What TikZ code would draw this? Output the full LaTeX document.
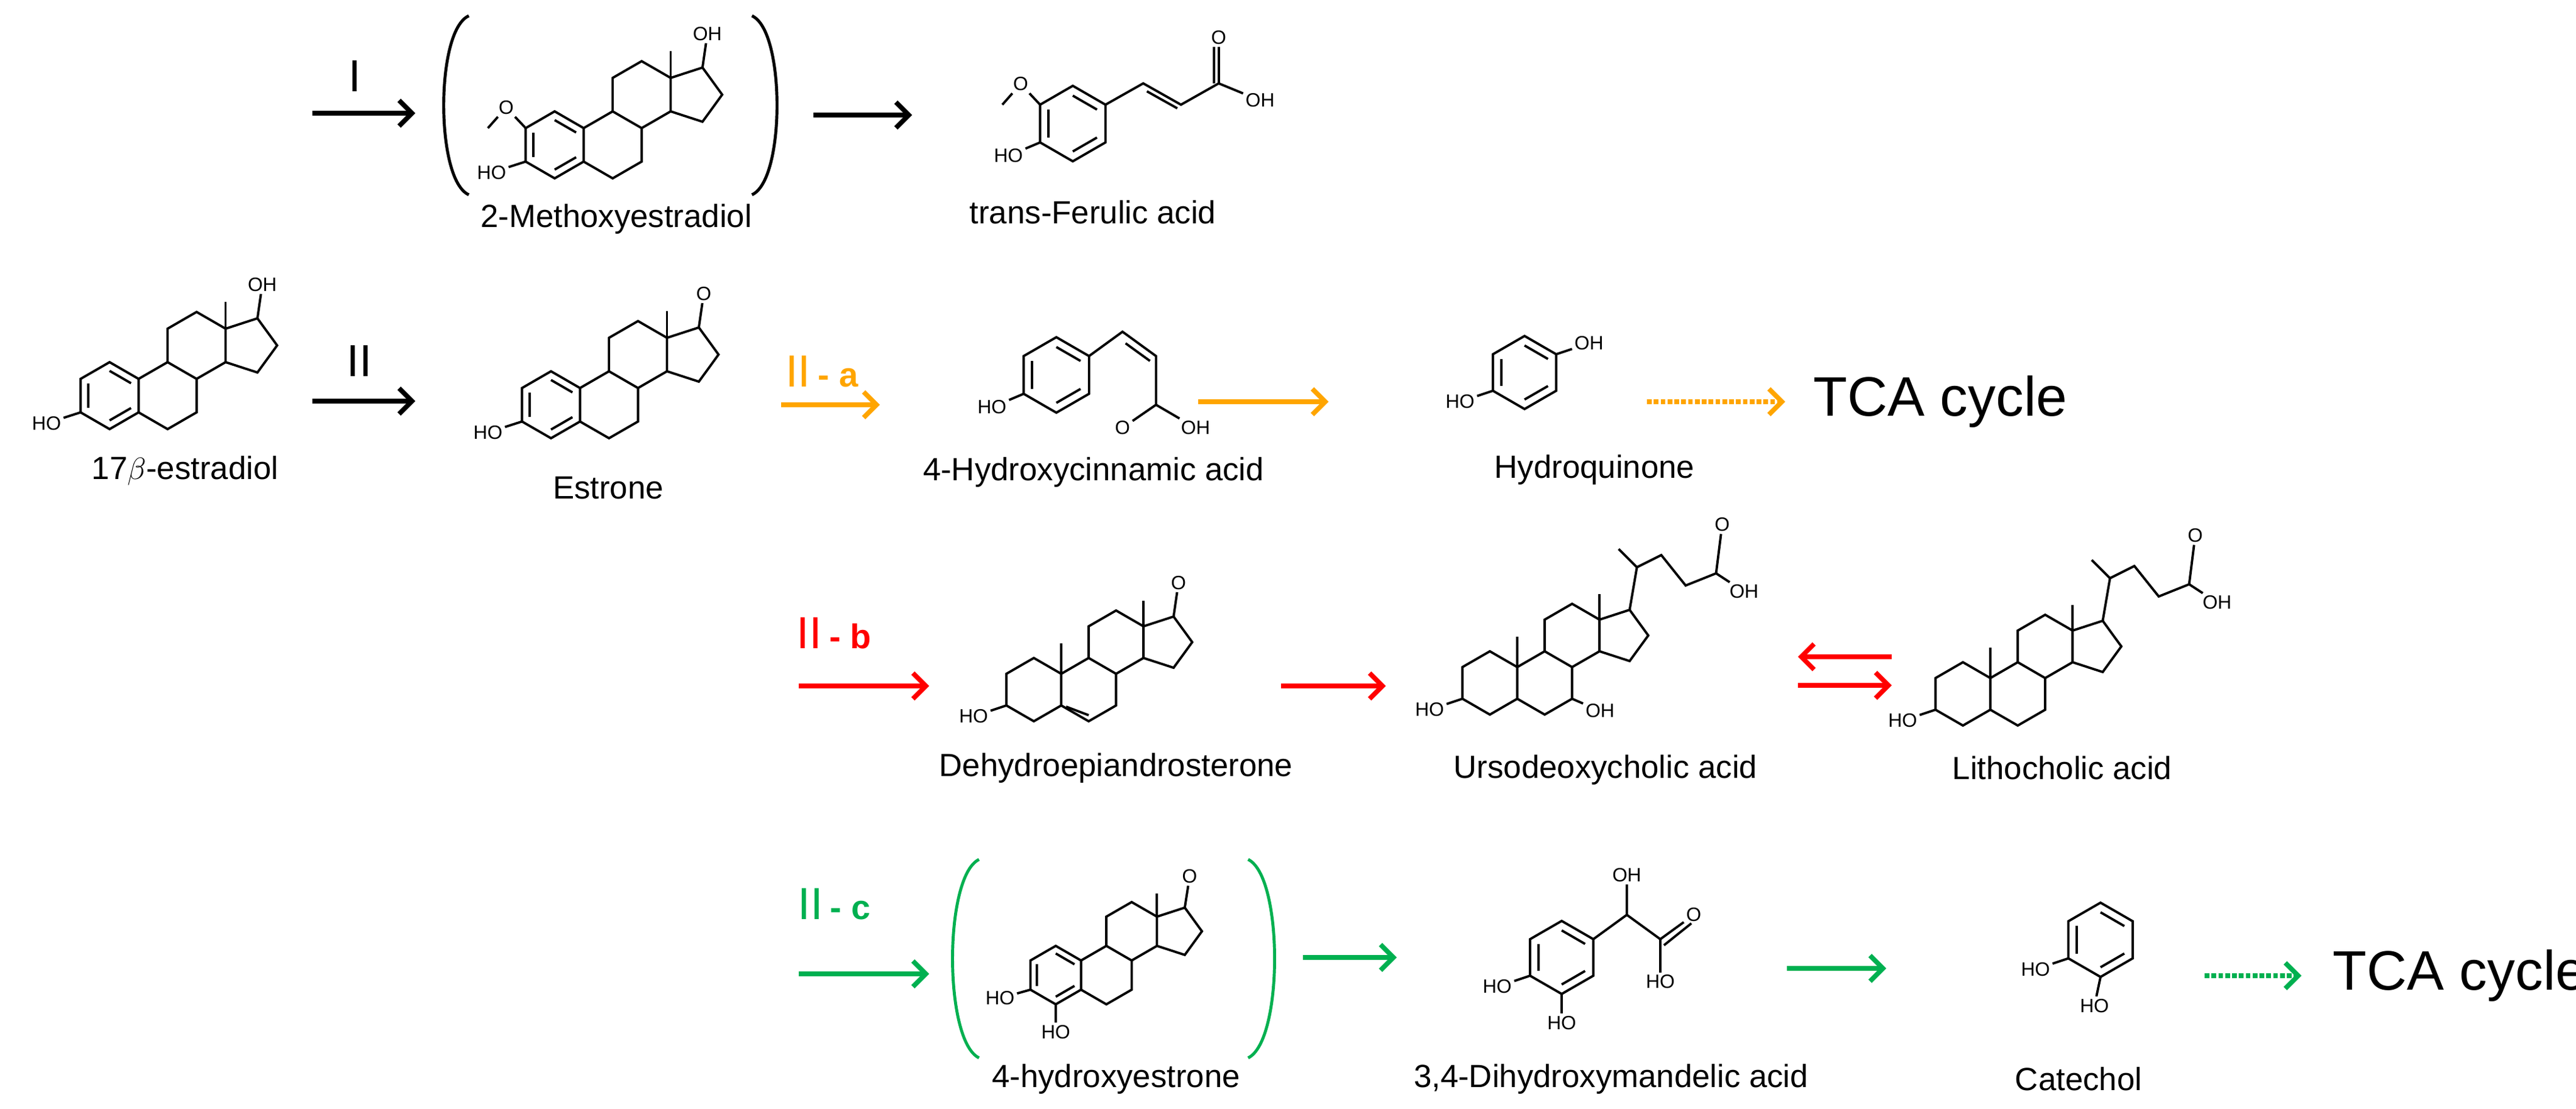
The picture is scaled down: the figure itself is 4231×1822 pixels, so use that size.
\documentclass[tikz,border=0pt]{standalone}
\usepackage{fontspec}
\setmainfont{Liberation Sans}
\usetikzlibrary{arrows.meta,calc}
\definecolor{orng}{RGB}{255,165,0}
\definecolor{grn}{RGB}{0,176,80}
\tikzset{
  bond/.style={line width=1.1pt},
  rxn/.style={-{Straight Barb[length=6pt,width=12pt]}, line width=2.2pt},
  atom/.style={font=\fontsize{9}{10}\selectfont, inner sep=1pt},
  cpd/.style={font=\fontsize{15}{17}\selectfont},
  roman/.style={font=\fontsize{21}{24}\selectfont},
  hexa/.pic={\draw[bond] (0,-1) -- (0.866,-0.5) -- (0.866,0.5) -- (0,1) -- (-0.866,0.5) -- (-0.866,-0.5) -- cycle;
    \coordinate (-tl) at (-0.866,-0.5); \coordinate (-tr) at (0.866,-0.5);
    \coordinate (-bl) at (-0.866,0.5); \coordinate (-br) at (0.866,0.5);
    \coordinate (-t) at (0,-1); \coordinate (-b) at (0,1);},
  arom/.pic={\foreach \k in {0,2,4} \draw[bond] (90-60*\k:0.74) -- (30-60*\k:0.74);},
  steroid/.pic={
    %%% rings A, B, C and D
    \draw[bond] (0,-1) -- (0.866,-0.5) -- (0.866,0.5) -- (0,1) -- (-0.866,0.5) -- (-0.866,-0.5) -- cycle;
    \draw[bond] (0.866,-0.5) -- (1.732,-1) -- (2.598,-0.5) -- (2.598,0.5) -- (1.732,1) -- (0.866,0.5);
    \draw[bond] (1.732,-1) -- (1.732,-2) -- (2.598,-2.5) -- (3.464,-2) -- (3.464,-1) -- (2.598,-0.5);
    \draw[bond] (3.464,-2) -- (4.415,-2.309) -- (5.003,-1.5) -- (4.415,-0.691) -- (3.464,-1);
    \draw[bond] (3.464,-2) -- (3.464,-2.8);
    \coordinate (-c3) at (-0.866,0.5); \coordinate (-c4) at (0,1);
    \coordinate (-c2) at (-0.866,-0.5); \coordinate (-c10) at (0.866,-0.5);
    \coordinate (-c17) at (4.415,-2.309); \coordinate (-c7) at (2.598,0.5);
    \coordinate (-c5) at (0.866,0.5); \coordinate (-c6) at (1.732,1);},
}
\begin{document}
\begin{tikzpicture}[x=0.01cm, y=-0.01cm]
\useasboundingbox (0,0) rectangle (4231,1822);
%%% row I
\node[roman] (r1) at (583,125) {\textrm{I}};
\draw[rxn] (513,186) -- (682,186);
\pic (meo) at (911,238) [scale=55] {steroid};
\pic at (911,238) [scale=55] {arom};
\node[atom, above] (meooh) at ($(meo-c17)+(8,-40)$) {OH};
\draw[bond] (meo-c17) -- (meooh);
\node[atom] (meoO) at ($(meo-c2)+(-32,-34)$) {O};
\draw[bond] (meo-c2) -- (meoO) -- ++(-30,34);
\node[atom, left] (meoho) at ($(meo-c3)+(-28,18)$) {HO};
\draw[bond] (meo-c3) -- (meoho);
\draw[line width=1.4pt] (770,26) .. controls (715,50) and (715,296) .. (770,320);
\draw[line width=1.4pt] (1235,26) .. controls (1290,50) and (1290,296) .. (1235,320);
\node[cpd] at (1012,360) {2-Methoxyestradiol};
\draw[rxn] (1336,189) -- (1498,189);
\pic (fer) at (1762,203) [scale=62] {hexa};
\pic at (1762,203) [scale=62] {arom};
\node[atom] (ferOm) at ($(fer-tl)+(-32,-34)$) {O};
\draw[bond] (fer-tl) -- (ferOm) -- ++(-30,34);
\node[atom, left] (ferho) at ($(fer-bl)+(-24,22)$) {HO};
\draw[bond] (fer-bl) -- (ferho);
\draw[bond] (fer-tr) -- ++(62,-35) -- ++(62,35) -- ++(62,-35) coordinate (ferc);
\draw[bond] ($(fer-tr)+(68,-22)$) -- ++(50,28);
\node[atom] (ferO) at ($(ferc)+(0,-75)$) {O};
\draw[bond] (ferc) -- (ferO);
\draw[bond] ($(ferc)+(-8,0)$) -- ($(ferO.south)+(-8,0)$);
\node[atom, right] (feroh) at ($(ferc)+(40,28)$) {OH};
\draw[bond] (ferc) -- (feroh);
\node[cpd] at (1795,349) {trans-Ferulic acid};
%%% row II
\pic (e2) at (180,650) [scale=55] {steroid};
\pic at (180,650) [scale=55] {arom};
\node[atom, above] (e2oh) at ($(e2-c17)+(8,-40)$) {OH};
\draw[bond] (e2-c17) -- (e2oh);
\node[atom, left] (e2ho) at ($(e2-c3)+(-28,18)$) {HO};
\draw[bond] (e2-c3) -- (e2ho);
\node[cpd] at (304,773) {17$\beta$-estradiol};
\node[roman] (r2) at (590,593) {\textrm{II}};
\draw[rxn] (513,659) -- (682,659);
\pic (e1) at (905,665) [scale=55] {steroid};
\pic at (905,665) [scale=55] {arom};
\node[atom, above] (e1o) at ($(e1-c17)+(8,-40)$) {O};
\draw[bond] (e1-c17) -- (e1o);
\node[atom, left] (e1ho) at ($(e1-c3)+(-28,18)$) {HO};
\draw[bond] (e1-c3) -- (e1ho);
\node[cpd] at (999,802) {Estrone};
\node[roman, text=orng] (r2a) at (1350,610) {\textrm{II}\,\textbf{\fontsize{16}{18}\selectfont- a}};
\draw[rxn, orng] (1283,665) -- (1445,665);
\pic (hc) at (1735,616) [scale=62] {hexa};
\pic at (1735,616) [scale=62] {arom};
\node[atom, left] (hcho) at ($(hc-bl)+(-24,22)$) {HO};
\draw[bond] (hc-bl) -- (hcho);
\draw[bond] (hc-tr) -- ++(55,-40) -- ++(55,40) coordinate (hcv) -- ++(0,80) coordinate (hcc);
\draw[bond] ($(hcv)+(-10,8)$) -- ++(-40,-29);
\node[atom] (hco) at ($(hcc)+(-55,38)$) {O};
\draw[bond] (hcc) -- (hco);
\node[atom] (hcoh) at ($(hcc)+(65,38)$) {OH};
\draw[bond] (hcc) -- (hcoh);
\node[cpd] at (1796,776) {4-Hydroxycinnamic acid};
\draw[rxn, orng] (1968,660) -- (2182,660);
\pic (hq) at (2504,612) [scale=60] {hexa};
\pic at (2504,612) [scale=60] {arom};
\node[atom, right] (hqoh) at ($(hq-tr)+(26,-18)$) {OH};
\draw[bond] (hq-tr) -- (hqoh);
\node[atom, left] (hqho) at ($(hq-bl)+(-26,18)$) {HO};
\draw[bond] (hq-bl) -- (hqho);
\node[cpd] at (2619,772) {Hydroquinone};
\draw[rxn, orng, densely dotted] (2705,660) -- (2932,660);
\node[font=\fontsize{26}{30}\selectfont] (tca1) at (3187,660) {TCA cycle};
%%% row III
\node[roman, text=red] (r2b) at (1370,1040) {\textrm{II}\,\textbf{\fontsize{16}{18}\selectfont- b}};
\draw[rxn, red] (1312,1127) -- (1526,1127);
\pic (dh) at (1698,1133) [scale=52] {steroid};
\draw[bond] (dh-c10) -- ++(0,-50);
\draw[bond] ($(dh-c5)+(8,2)$) -- ($(dh-c6)+(0,-10)$);
\node[atom, above] (dho) at ($(dh-c17)+(8,-40)$) {O};
\draw[bond] (dh-c17) -- (dho);
\node[atom, left] (dhho) at ($(dh-c3)+(-26,18)$) {HO};
\draw[bond] (dh-c3) -- (dhho);
\node[cpd] at (1833,1262) {Dehydroepiandrosterone};
\draw[rxn, red] (2104,1127) -- (2276,1127);
\foreach \nm/\cx/\cy in {ud/2447/1122, lc/3224/1140}{
  \pic (\nm) at (\cx,\cy) [scale=52] {steroid};
  \draw[bond] (\nm-c10) -- ++(0,-50);
  \draw[bond] (\nm-c17) -- ++(12,-70) coordinate (\nm-c20) -- ++(-30,-30);
  \draw[bond] (\nm-c20) -- ++(40,-20) -- ++(40,50) -- ++(50,-20) coordinate (\nm-acid);
  \node[atom] (\nm o) at ($(\nm-acid)+(10,-80)$) {O};
  \draw[bond] (\nm-acid) -- (\nm o);
  \node[atom, right] (\nm oh) at ($(\nm-acid)+(18,30)$) {OH};
  \draw[bond] (\nm-acid) -- (\nm oh);
  \node[atom, left] (\nm ho) at ($(\nm-c3)+(-26,18)$) {HO};
  \draw[bond] (\nm-c3) -- (\nm ho);
}
\node[atom, right] (udoh7) at ($(ud-c7)+(18,20)$) {OH};
\draw[bond] (ud-c7) -- (udoh7);
\node[cpd] at (2637,1265) {Ursodeoxycholic acid};
\node[cpd] at (3387,1262) {Lithocholic acid};
\draw[rxn, red] (3107,1079) -- (2953,1079);
\draw[rxn, red] (2953,1126) -- (3107,1126);
%%% row IV
\node[roman, text=grn] (r2c) at (1370,1485) {\textrm{II}\,\textbf{\fontsize{16}{18}\selectfont- c}};
\draw[rxn, grn] (1312,1600) -- (1526,1600);
\pic (oh4) at (1734,1602) [scale=48] {steroid};
\pic at (1734,1602) [scale=48] {arom};
\node[atom, above] (oh4o) at ($(oh4-c17)+(8,-36)$) {O};
\draw[bond] (oh4-c17) -- (oh4o);
\node[atom, left] (oh4ho) at ($(oh4-c3)+(-22,14)$) {HO};
\draw[bond] (oh4-c3) -- (oh4ho);
\node[atom, below] (oh4oh) at ($(oh4-c4)+(0,30)$) {HO};
\draw[bond] (oh4-c4) -- (oh4oh);
\draw[grn, line width=1.4pt] (1608,1412) .. controls (1550,1440) and (1550,1710) .. (1608,1738);
\draw[grn, line width=1.4pt] (2050,1412) .. controls (2108,1440) and (2108,1710) .. (2050,1738);
\node[cpd] at (1833,1773) {4-hydroxyestrone};
\draw[rxn, grn] (2140,1573) -- (2294,1573);
\pic (mand) at (2565,1573) [scale=60] {hexa};
\pic at (2565,1573) [scale=60] {arom};
\node[atom, left] (mandho) at ($(mand-bl)+(-26,18)$) {HO};
\draw[bond] (mand-bl) -- (mandho);
\node[atom, below] (mandoh) at ($(mand-b)+(0,32)$) {HO};
\draw[bond] (mand-b) -- (mandoh);
\draw[bond] (mand-tr) -- ++(55,-40) coordinate (mandc) -- ++(55,40) coordinate (mandac);
\node[atom, above] (mandoh2) at ($(mandc)+(0,-50)$) {OH};
\draw[bond] (mandc) -- (mandoh2);
\node[atom] (mando) at ($(mandac)+(55,-40)$) {O};
\draw[bond] (mandac) -- (mando);
\draw[bond] ($(mandac)+(6,10)$) -- ($(mando)+(-4,14)$);
\node[atom] (mandoh3) at ($(mandac)+(0,70)$) {HO};
\draw[bond] (mandac) -- (mandoh3);
\node[cpd] at (2646,1773) {3,4-Dihydroxymandelic acid};
\draw[rxn, grn] (2935,1591) -- (3098,1591);
\pic (cat) at (3450,1544) [scale=61] {hexa};
\pic at (3450,1544) [scale=61] {arom};
\node[atom, left] (catho) at ($(cat-bl)+(-26,18)$) {HO};
\draw[bond] (cat-bl) -- (catho);
\node[atom, below] (catoh) at ($(cat-b)+(-10,32)$) {HO};
\draw[bond] (cat-b) -- (catoh);
\node[cpd] at (3414,1773) {Catechol};
\draw[rxn, grn, densely dotted] (3621,1603) -- (3780,1603);
\node[font=\fontsize{26}{30}\selectfont] (tca2) at (4040,1603) {TCA cycle};
\end{tikzpicture}
\end{document}
